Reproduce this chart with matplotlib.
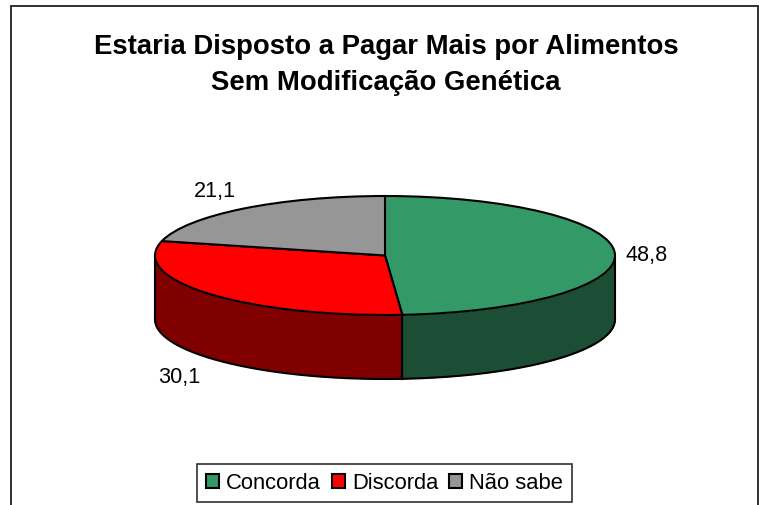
import numpy as np
import matplotlib
matplotlib.use("Agg")
import matplotlib.pyplot as plt
from matplotlib.patches import Rectangle

W, H = 759, 506
plt.rcParams['font.family'] = ['Liberation Sans', 'DejaVu Sans']

title = "Estaria Disposto a Pagar Mais por Alimentos\nSem Modificação Genética"
categories = ["Concorda", "Discorda", "Não sabe"]
values = [48.8, 30.1, 21.1]
top_colors = ["#339966", "#FF0000", "#969696"]
side_colors = ["#1C4D35", "#800000", "#4B4B4B"]

fig = plt.figure(figsize=(W / 100, H / 100), dpi=100, facecolor="white")


def fx(px):
    return px / W


def fy(py):
    return 1 - py / H


# outer frame, open at the bottom (cropped by the picture edge)
fig.add_artist(Rectangle((fx(11), fy(530)), (758 - 11) / W, (530 - 7) / H,
                         transform=fig.transFigure, fill=False,
                         edgecolor="#303030", linewidth=1.4))

# pie geometry in pixels
left, right, top_y, bottom_y = 155, 615, 197, 316
depth_px = 64
ry_px = (bottom_y - top_y) / 2
depth = depth_px / ry_px
ax = fig.add_axes([fx(left), fy(bottom_y + depth_px), (right - left) / W,
                   (bottom_y + depth_px - top_y) / H])

# sides (only the front half of the ellipse is visible)
total = sum(values)
start = 0.0
for v, c in zip(values, side_colors):
    a0, a1 = start, start + v / total * 360
    start = a1
    lo, hi = max(a0, 90), min(a1, 270)
    if hi <= lo:
        continue
    t = np.radians(np.linspace(lo, hi, 200))
    x = np.sin(t)
    y = np.cos(t)
    ax.fill_between(x, y, y - depth, color=c, linewidth=0, zorder=1)
    ax.plot(x, y - depth, color="black", lw=1.5, zorder=2, clip_on=False)
    for edge in (lo, hi):
        e = np.radians(edge)
        ax.plot([np.sin(e)] * 2, [np.cos(e), np.cos(e) - depth], color="black",
                lw=1.5, zorder=2, clip_on=False)

wedges, _ = ax.pie(values, startangle=90, counterclock=False, colors=top_colors,
                   radius=1, wedgeprops=dict(edgecolor="black", linewidth=1.5, zorder=3,
                                             clip_on=False))
ax.set_aspect("auto")
ax.set_xlim(-1, 1)
ax.set_ylim(-1 - depth, 1)
ax.axis("off")

# texts
fig.text(fx(386), fy(64.5), title, ha="center", va="center", fontsize=19.8,
         fontweight="bold", linespacing=1.5, color="black")

label_pos = [(625, 256), (158, 377), (194, 191)]
for v, (px, py) in zip(values, label_pos):
    fig.text(fx(px), fy(py), f"{v:.1f}".replace(".", ","), ha="left", va="center",
             fontsize=15.6, color="black")

leg = fig.legend(wedges, categories, ncol=3, loc="center",
                 bbox_to_anchor=(fx(384.5), fy(484)), fontsize=15.8, frameon=True,
                 fancybox=False, edgecolor="#303030", framealpha=1,
                 handlelength=0.6, handleheight=0.6, handletextpad=0.32,
                 columnspacing=0.5, borderpad=0.4, borderaxespad=0)
leg.get_frame().set_linewidth(1.2)

fig.savefig("out.png", dpi=100)
